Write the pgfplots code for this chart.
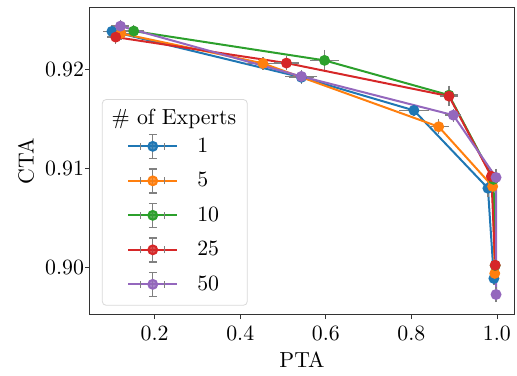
\documentclass[border=0pt]{standalone}
\usepackage{fontspec}
\usepackage{pgfplots}
\pgfplotsset{compat=1.18}
\usepackage{pgfplotstable}
\usetikzlibrary{calc}
\definecolor{c1}{HTML}{1F77B4}
\definecolor{c2}{HTML}{FF7F0E}
\definecolor{c3}{HTML}{2CA02C}
\definecolor{c4}{HTML}{D62728}
\definecolor{c5}{HTML}{9467BD}
\definecolor{eb}{HTML}{808080}

\pgfplotstableread{
x y ex ey
0.100 0.92384 0.012 0.0003
0.543 0.91920 0.020 0.0003
0.806 0.91586 0.027 0.0002
0.979 0.90800 0.004 0.0005
0.993 0.89889 0.003 0.0003
}\tabA
\pgfplotstableread{
x y ex ey
0.121 0.92364 0.012 0.0003
0.453 0.92061 0.030 0.0003
0.864 0.91421 0.015 0.0004
0.990 0.90818 0.004 0.0004
0.995 0.89940 0.003 0.0004
}\tabB
\pgfplotstableread{
x y ex ey
0.151 0.92387 0.015 0.0003
0.597 0.92091 0.025 0.0007
0.888 0.91740 0.012 0.0006
0.992 0.90890 0.004 0.0004
0.996 0.90020 0.003 0.0003
}\tabC
\pgfplotstableread{
x y ex ey
0.109 0.92326 0.012 0.0003
0.508 0.92064 0.020 0.0003
0.888 0.91730 0.013 0.0006
0.987 0.90920 0.004 0.0004
0.996 0.90023 0.003 0.0003
}\tabD
\pgfplotstableread{
x y ex ey
0.120 0.92437 0.012 0.0003
0.543 0.91929 0.029 0.0003
0.898 0.91538 0.010 0.0003
0.998 0.90909 0.003 0.0005
0.998 0.89727 0.003 0.0004
}\tabE

\begin{document}
\begin{tikzpicture}[font=\fontsize{10.9}{13}\selectfont]
\begin{axis}[
  scale only axis,
  width=212pt, height=153pt,
  xmin=0.0488, xmax=1.04,
  ymin=0.8953, ymax=0.9262,
  xtick={0.2,0.4,0.6,0.8,1.0},
  ytick={0.90,0.91,0.92},
  scaled y ticks=false,
  /pgf/number format/assume math mode=true,
  xticklabel style={/pgf/number format/fixed,/pgf/number format/precision=1,/pgf/number format/fixed zerofill},
  yticklabel style={xshift=3pt,/pgf/number format/fixed,/pgf/number format/precision=2,/pgf/number format/fixed zerofill},
  xtick pos=bottom, ytick pos=left,
  tick align=outside,
  major tick length=2.5pt,
  tick style={black!80, line width=0.4pt},
  axis line style={black!80, line width=0.5pt},
  xlabel={PTA}, ylabel={CTA},
  every axis x label/.style={at={([yshift=-23pt]axis description cs:0.5,0)}, anchor=center},
  every axis y label/.style={at={([xshift=-32pt]axis description cs:0,0.5)}, rotate=90, anchor=center},
  legend cell align=left,
  legend style={at={(0.028,0.027)}, anchor=south west, draw=black!15, rounded corners=2pt,
    fill=white, fill opacity=0.8, text opacity=1, row sep=2.25pt, inner xsep=3.5pt, inner ysep=3pt},
  legend image code/.code={
    \path (0pt,-7pt) (41pt,7pt);
    \draw[#1, mark=none] (9pt,0pt) -- (33.5pt,0pt);
    \draw[eb, line width=0.7pt] (21.25pt,-6pt)--(21.25pt,6pt) (19.25pt,-6pt)--(23.25pt,-6pt) (19.25pt,6pt)--(23.25pt,6pt)
       (15.25pt,-1.75pt)--(15.25pt,1.75pt) (27.25pt,-1.75pt)--(27.25pt,1.75pt);
    \draw[#1] plot coordinates {(21.25pt,0pt)};
  },
  ser/.style={#1, line width=1pt, mark=*, mark size=2.2pt, mark options={solid, fill=#1, draw=none},
    error bars/x dir=both, error bars/x explicit,
    error bars/y dir=both, error bars/y explicit,
    error bars/error bar style={eb, line width=0.7pt},
    error bars/error mark options={eb, mark size=1.8pt, line width=0.7pt}},
]
\addlegendimage{empty legend}
\addlegendentry{\hspace*{-42.8pt}\raisebox{-2.5pt}[\dimexpr\height-2.5pt\relax][\depth]{\# of Experts}}
\addplot[ser=c1] table[x=x, y=y, x error=ex, y error=ey] {\tabA};
\addlegendentry{1}
\addplot[ser=c2] table[x=x, y=y, x error=ex, y error=ey] {\tabB};
\addlegendentry{5}
\addplot[ser=c3] table[x=x, y=y, x error=ex, y error=ey] {\tabC};
\addlegendentry{10}
\addplot[ser=c4] table[x=x, y=y, x error=ex, y error=ey] {\tabD};
\addlegendentry{25}
\addplot[ser=c5] table[x=x, y=y, x error=ex, y error=ey] {\tabE};
\addlegendentry{50}
\end{axis}
\pgfresetboundingbox
\path ($(current axis.south west)+(-45pt,-30.5pt)$) rectangle ($(current axis.north east)+(1.5pt,4pt)$);
\end{tikzpicture}
\end{document}
